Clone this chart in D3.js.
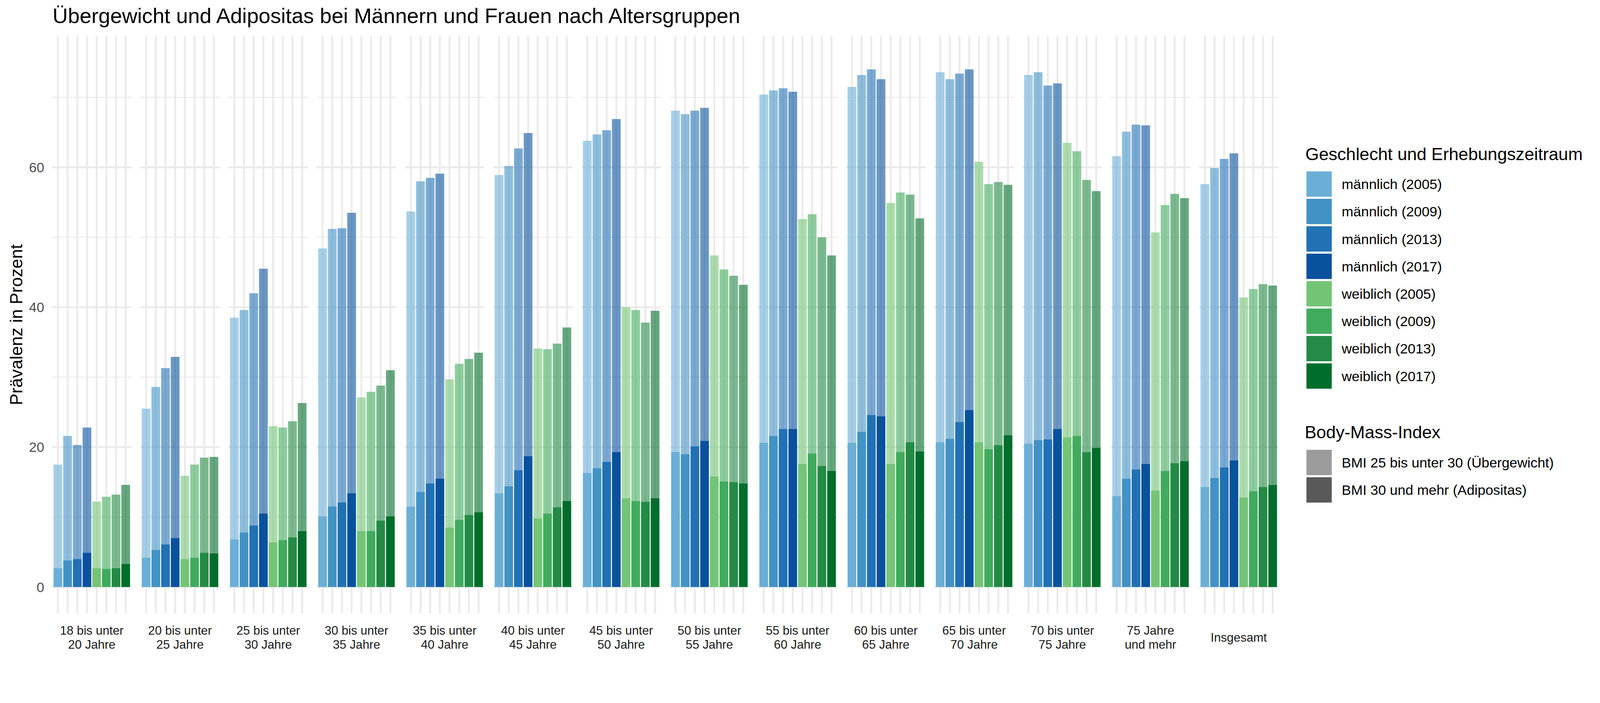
<!DOCTYPE html>
<html>
<head>
<meta charset="utf-8">
<script src="https://cdn.jsdelivr.net/npm/d3@7"></script>
<style>
  html, body { margin: 0; padding: 0; background: #fff; overflow: hidden; }
  #chart { display: block; width: 100vw; height: 100vh; }
  text { font-family: "Liberation Sans", Arial, sans-serif; }
</style>
</head>
<body>
<svg id="chart" viewBox="0 0 4200 1800" preserveAspectRatio="xMinYMin meet"></svg>
<script>
// ==== Data ====
const ageGroups = [
  "18 bis unter\n20 Jahre", "20 bis unter\n25 Jahre", "25 bis unter\n30 Jahre",
  "30 bis unter\n35 Jahre", "35 bis unter\n40 Jahre", "40 bis unter\n45 Jahre",
  "45 bis unter\n50 Jahre", "50 bis unter\n55 Jahre", "55 bis unter\n60 Jahre",
  "60 bis unter\n65 Jahre", "65 bis unter\n70 Jahre", "70 bis unter\n75 Jahre",
  "75 Jahre\nund mehr", "Insgesamt"
];

const seriesLabels = [
  "männlich (2005)", "männlich (2009)", "männlich (2013)", "männlich (2017)",
  "weiblich (2005)", "weiblich (2009)", "weiblich (2013)", "weiblich (2017)"
];

const seriesColors = [
  "#6BAED6", "#4292C6", "#2171B5", "#08519C",
  "#74C476", "#41AB5D", "#238B45", "#006D2C"
];

const bmiLabels = ["BMI 25 bis unter 30 (Übergewicht)", "BMI 30 und mehr (Adipositas)"];

// BMI 30 und mehr (Adipositas), one row per age group, columns = seriesLabels
const adipositas = [
  [2.7, 3.8, 4.0, 4.9, 2.7, 2.6, 2.7, 3.3],
  [4.2, 5.3, 6.1, 7.0, 4.0, 4.2, 4.9, 4.8],
  [6.8, 7.8, 8.8, 10.5, 6.4, 6.7, 7.1, 8.0],
  [10.1, 11.5, 12.1, 13.4, 8.0, 8.0, 9.5, 10.1],
  [11.5, 13.6, 14.8, 15.5, 8.5, 9.6, 10.3, 10.7],
  [13.4, 14.4, 16.7, 18.7, 9.8, 10.5, 11.4, 12.3],
  [16.3, 17.0, 17.9, 19.3, 12.7, 12.3, 12.2, 12.7],
  [19.3, 19.0, 20.1, 20.9, 15.8, 15.1, 15.0, 14.8],
  [20.6, 21.6, 22.6, 22.6, 17.6, 19.1, 17.3, 16.6],
  [20.6, 22.2, 24.6, 24.4, 17.6, 19.3, 20.7, 19.4],
  [20.7, 21.2, 23.6, 25.3, 20.7, 19.7, 20.3, 21.7],
  [20.5, 21.0, 21.1, 22.6, 21.4, 21.6, 19.3, 19.9],
  [13.0, 15.5, 16.8, 17.6, 13.8, 16.6, 17.7, 18.0],
  [14.3, 15.6, 17.1, 18.1, 12.8, 13.7, 14.3, 14.6]
];

// BMI 25 bis unter 30 (Übergewicht)
const uebergewicht = [
  [14.8, 17.8, 16.3, 17.9, 9.5, 10.3, 10.5, 11.3],
  [21.3, 23.3, 25.2, 25.9, 11.9, 13.3, 13.6, 13.8],
  [31.7, 31.8, 33.2, 35.0, 16.6, 16.1, 16.6, 18.3],
  [38.3, 39.7, 39.2, 40.1, 19.1, 19.9, 19.3, 20.9],
  [42.2, 44.4, 43.7, 43.6, 21.2, 22.3, 22.3, 22.8],
  [45.5, 45.8, 46.0, 46.2, 24.3, 23.5, 23.4, 24.8],
  [47.5, 47.7, 47.4, 47.6, 27.3, 27.3, 25.6, 26.8],
  [48.8, 48.6, 48.0, 47.6, 31.6, 30.3, 29.5, 28.4],
  [49.8, 49.4, 48.7, 48.2, 35.0, 34.2, 32.7, 30.8],
  [50.9, 51.0, 49.4, 48.2, 37.3, 37.1, 35.4, 33.3],
  [52.9, 51.4, 49.8, 48.7, 40.1, 37.9, 37.6, 35.8],
  [52.7, 52.6, 50.6, 49.4, 42.1, 40.7, 38.9, 36.7],
  [48.6, 49.6, 49.3, 48.4, 36.9, 38.0, 38.5, 37.6],
  [43.3, 44.3, 44.1, 43.9, 28.6, 28.9, 29.0, 28.5]
];

const yTickLabels = [0, 20, 40, 60];

// ==== Layout ====
const W = 4200, H = 1800;
const panelTop = 95, panelBottom = 1610;
const gridCol = "#EBEBEB";

const svg = d3.select("#chart");
svg.append("rect").attr("width", W).attr("height", H).attr("fill", "#fff");

// facets side by side
const fx = d3.scaleBand()
  .domain(d3.range(ageGroups.length))
  .range([136.7, 3356])
  .paddingInner(0.0997);

// bars inside a facet (ggplot style: 0.6 unit expansion, width 0.9)
const x = d3.scaleBand()
  .domain(seriesLabels)
  .range([0, fx.bandwidth()])
  .paddingInner(0.1)
  .paddingOuter(0.15);

const y = d3.scaleLinear().domain([-3.75, 78.75]).range([panelBottom, panelTop]);

const color = d3.scaleOrdinal().domain(seriesLabels).range(seriesColors);

const stack = d3.stack().keys(["adip", "ueber"]);
const layerOpacity = { adip: 1, ueber: 0.6 };

const gridValues = d3.range(0, 80, 10).filter(v => v <= y.domain()[1]);

// ==== Panels ====
ageGroups.forEach((age, i) => {
  const g = svg.append("g").attr("transform", `translate(${fx(i)},0)`);

  // grid
  g.selectAll("line.h").data(gridValues).join("line")
    .attr("x1", 0).attr("x2", fx.bandwidth())
    .attr("y1", d => y(d)).attr("y2", d => y(d))
    .attr("stroke", gridCol)
    .attr("stroke-width", d => d % 20 === 0 ? 5 : 2.6);

  g.selectAll("line.v").data(seriesLabels).join("line")
    .attr("x1", d => x(d) + x.bandwidth() / 2).attr("x2", d => x(d) + x.bandwidth() / 2)
    .attr("y1", panelTop).attr("y2", panelBottom)
    .attr("stroke", gridCol)
    .attr("stroke-width", 5);

  // bars
  const rows = seriesLabels.map((s, j) => ({ key: s, adip: adipositas[i][j], ueber: uebergewicht[i][j] }));
  const layers = stack(rows);

  g.selectAll("g.layer").data(layers).join("g")
    .attr("fill-opacity", d => layerOpacity[d.key])
    .selectAll("rect").data(d => d).join("rect")
      .attr("x", d => x(d.data.key))
      .attr("width", x.bandwidth())
      .attr("y", d => y(d[1]))
      .attr("height", d => y(d[0]) - y(d[1]))
      .attr("fill", d => color(d.data.key));

  // strip label (bottom)
  const lines = age.split("\n");
  const baselines = lines.length === 2 ? [1666.7, 1702.7] : [1684.7];
  const t = svg.append("text")
    .attr("text-anchor", "middle")
    .attr("font-size", 32)
    .attr("fill", "#1A1A1A");
  lines.forEach((ln, k) => {
    t.append("tspan")
      .attr("x", fx(i) + fx.bandwidth() / 2)
      .attr("y", baselines[k])
      .text(ln);
  });
});

// ==== Y axis ====
svg.append("g").selectAll("text").data(yTickLabels).join("text")
  .attr("x", fx(0) - 20.5)
  .attr("y", d => y(d))
  .attr("dy", "0.36em")
  .attr("text-anchor", "end")
  .attr("font-size", 36)
  .attr("fill", "#4D4D4D")
  .text(d => d);

svg.append("text")
  .attr("transform", `translate(58,${(panelTop + panelBottom) / 2}) rotate(-90)`)
  .attr("text-anchor", "middle")
  .attr("font-size", 45.8)
  .attr("fill", "#000")
  .text("Prävalenz in Prozent");

// ==== Title ====
svg.append("text")
  .attr("x", 138).attr("y", 61)
  .attr("font-size", 55.6)
  .attr("fill", "#000")
  .text("Übergewicht und Adipositas bei Männern und Frauen nach Altersgruppen");

// ==== Legends ====
const legX = 3426.5, keyX = 3429.4, keySize = 66.5, keyPitch = 72, labX = 3522;

const leg1 = svg.append("g");
leg1.append("text").attr("x", legX).attr("y", 420)
  .attr("font-size", 45.8).attr("fill", "#000")
  .text("Geschlecht und Erhebungszeitraum");
seriesLabels.forEach((s, j) => {
  const top = 450 + j * keyPitch;
  leg1.append("rect").attr("x", keyX).attr("y", top)
    .attr("width", keySize).attr("height", keySize).attr("fill", color(s));
  leg1.append("text").attr("x", labX).attr("y", top + keySize / 2).attr("dy", "0.36em")
    .attr("font-size", 36.7).attr("fill", "#000").text(s);
});

const bmiColor = d3.scaleOrdinal().domain(bmiLabels).range(["#595959", "#595959"]);
const bmiOpacity = d3.scaleOrdinal().domain(bmiLabels).range([0.6, 1]);
const leg2 = svg.append("g");
leg2.append("text").attr("x", legX - 1.5).attr("y", 1150)
  .attr("font-size", 45.8).attr("fill", "#000")
  .text("Body-Mass-Index");
bmiLabels.forEach((s, j) => {
  const top = 1181 + j * keyPitch;
  leg2.append("rect").attr("x", keyX).attr("y", top)
    .attr("width", keySize).attr("height", keySize)
    .attr("fill", bmiColor(s)).attr("fill-opacity", bmiOpacity(s));
  leg2.append("text").attr("x", labX).attr("y", top + keySize / 2).attr("dy", "0.36em")
    .attr("font-size", 36.7).attr("fill", "#000").text(s);
});
</script>
</body>
</html>
